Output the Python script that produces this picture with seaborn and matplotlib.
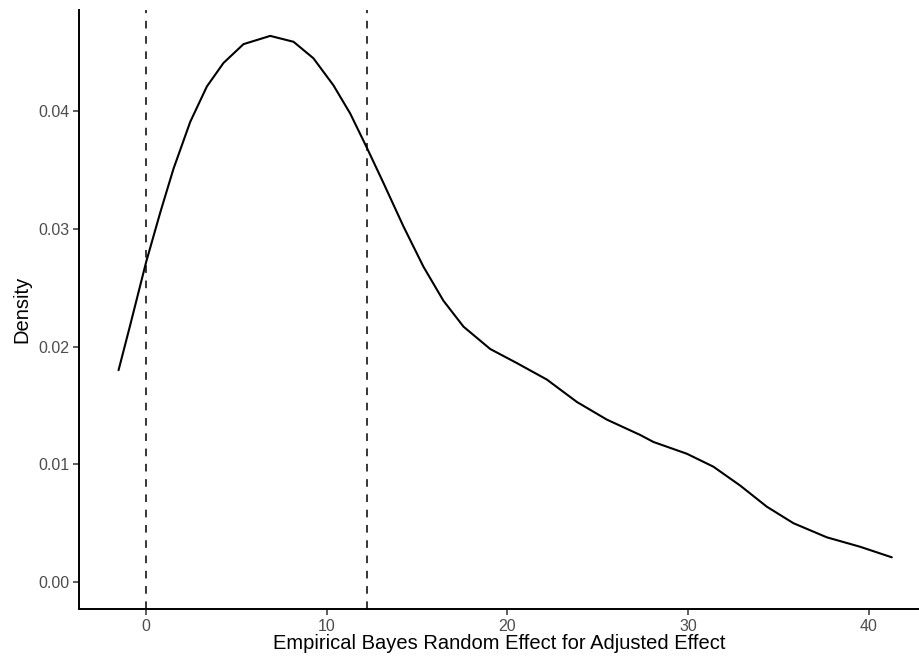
import numpy as np
import pandas as pd
import matplotlib
matplotlib.use("Agg")
import matplotlib.pyplot as plt
import seaborn as sns

# density curve (x = random effect, y = density)
effect = [-1.53, -0.89, 0.00, 0.78, 1.51, 2.44, 3.36, 4.28, 5.39, 6.87,
          8.16, 9.26, 10.37, 11.30, 12.22, 13.14, 14.25, 15.35, 16.46,
          17.57, 19.05, 20.53, 22.19, 23.85, 25.51, 27.35, 28.09, 29.94,
          31.41, 32.89, 34.37, 35.84, 37.69, 39.53, 41.29]
density = [0.0180, 0.0218, 0.0272, 0.0314, 0.0351, 0.0391, 0.0421, 0.0441,
           0.0457, 0.0464, 0.0459, 0.0445, 0.0422, 0.0398, 0.0369, 0.0339,
           0.0302, 0.0268, 0.0239, 0.0217, 0.0198, 0.0186, 0.0172, 0.0153,
           0.0138, 0.0125, 0.0119, 0.0109, 0.0098, 0.0082, 0.0064, 0.0050,
           0.0038, 0.0030, 0.0021]
cutoffs = [0, 12.24]

x_ticks = [0, 10, 20, 30, 40]
y_ticks = [0.00, 0.01, 0.02, 0.03, 0.04]

df = pd.DataFrame({"effect": effect, "density": density})

sns.set_theme(style="ticks")
plt.rcParams['font.family'] = ['Liberation Sans', 'DejaVu Sans']

fig = plt.figure(figsize=(9.2, 6.61), dpi=100)
ax = fig.add_axes([79 / 920, 1 - 609 / 661, 1 - 79 / 920, (609 - 10) / 661])

sns.lineplot(data=df, x="effect", y="density", color="black", linewidth=1.5,
             estimator=None, ax=ax)
for c in cutoffs:
    ax.axvline(c, color="black", linewidth=1.1, linestyle=(0, (5, 5)))

ax.set_xlim(-3.72, 42.85)
ax.set_ylim(-0.00229, 0.0486)
ax.set_xticks(x_ticks)
ax.set_yticks(y_ticks)
ax.set_yticklabels([f"{v:.2f}" for v in y_ticks])
ax.tick_params(axis="both", labelsize=11.5, labelcolor="#4D4D4D", color="#333333",
               length=4, width=1.1, pad=3)
ax.set_xlabel("Empirical Bayes Random Effect for Adjusted Effect", fontsize=14.5,
              color="black", labelpad=0)
ax.set_ylabel("Density", fontsize=14.5, color="black", labelpad=5)
for side in ["top", "right"]:
    ax.spines[side].set_visible(False)
for side in ["left", "bottom"]:
    ax.spines[side].set_linewidth(1.4)
    ax.spines[side].set_color("black")

fig.savefig("out.png", dpi=100)
